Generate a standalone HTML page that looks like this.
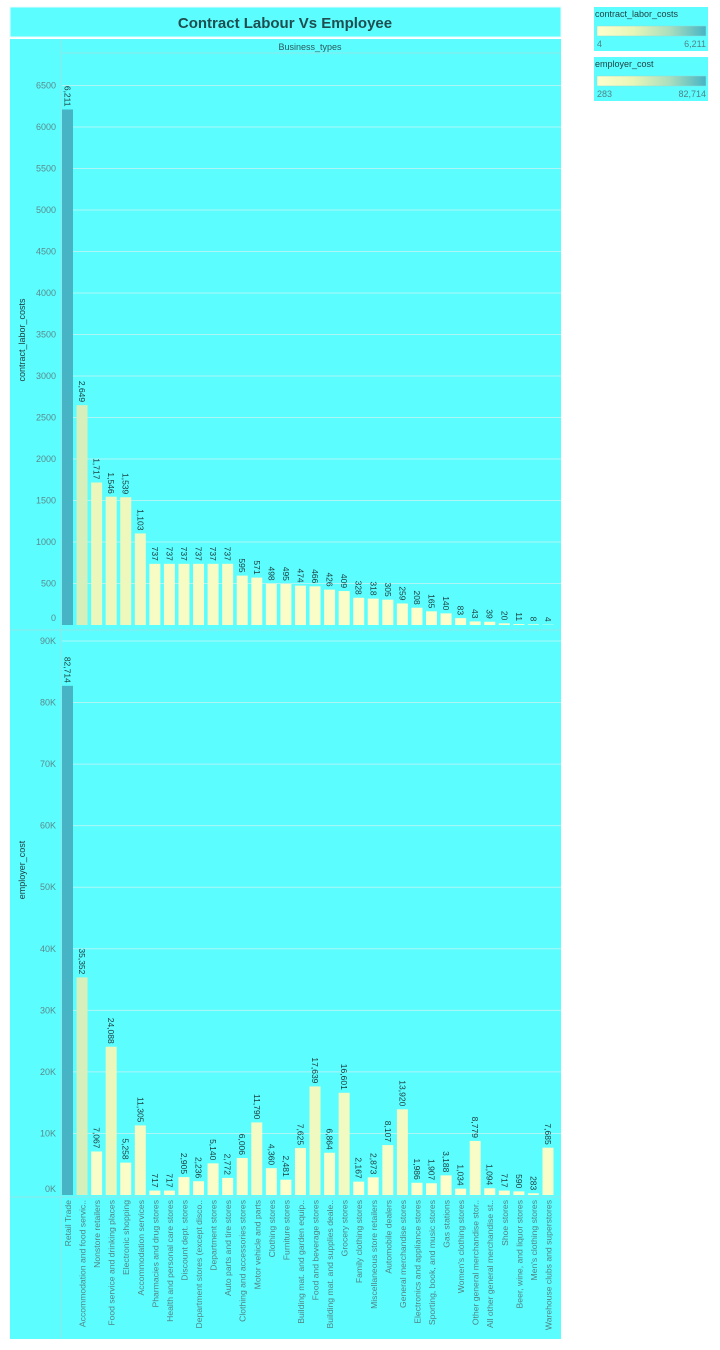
<!DOCTYPE html>
<html><head><meta charset="utf-8"><style>
body{margin:0;background:#fff;width:720px;height:1345px;overflow:hidden;font-family:"Liberation Sans",sans-serif}
</style></head><body>
<svg id="c" width="720" height="1345" xmlns="http://www.w3.org/2000/svg">
<rect x="10" y="7" width="551" height="30" fill="#5cfdff" stroke="#e8fbfb"/>
<text x="285" y="28" text-anchor="middle" font-size="15" font-weight="bold" fill="#1f4e50">Contract Labour Vs Employee</text>
<rect x="10" y="39" width="551" height="1300" fill="#5cfdff"/>
<g id="legend"></g>
<g id="g"></g>
</svg>
<script>
const categories=["Retail Trade","Accommodation and food servic..","Nonstore retailers","Food service and drinking places","Electronic shopping","Accommodation services","Pharmacies and drug stores","Health and personal care stores","Discount dept. stores","Department stores (except disco..","Department stores","Auto parts and tire stores","Clothing and accessories stores","Motor vehicle and parts","Clothing stores","Furniture stores","Building mat. and garden equip..","Food and beverage stores","Building mat. and supplies deale..","Grocery stores","Family clothing stores","Miscellaneous store retailers","Automobile dealers","General merchandise stores","Electronics and appliance stores","Sporting, book, and music stores","Gas stations","Women's clothing stores","Other general merchandise stor..","All other general merchandise st..","Shoe stores","Beer, wine, and liquor stores","Men's clothing stores","Warehouse clubs and superstores"];
const contractCosts=[6211,2649,1717,1546,1539,1103,737,737,737,737,737,737,595,571,498,495,474,466,426,409,328,318,305,259,208,165,140,83,43,39,20,11,8,4];
const employerCost=[82714,35352,7067,24088,5258,11305,717,717,2905,2236,5140,2772,6006,11790,4360,2481,7625,17639,6864,16601,2167,2873,8107,13920,1986,1907,3188,1034,8779,1094,717,590,283,7685];
const topTicks=[0,500,1000,1500,2000,2500,3000,3500,4000,4500,5000,5500,6000,6500];
const botTicks=[0,10000,20000,30000,40000,50000,60000,70000,80000,90000];
const botTickLabels=["0K","10K","20K","30K","40K","50K","60K","70K","80K","90K"];
const NS="http://www.w3.org/2000/svg";
const g=document.getElementById('g');
function el(t,a,p){const e=document.createElementNS(NS,t);for(const k in a)e.setAttribute(k,a[k]);(p||g).appendChild(e);return e;}
const x0=62,step=14.56,bw=11;
const xPos=i=>x0+i*step;
const yTop=v=>625-v*0.0830;
const yBot=v=>1195-v*0.006156;
const stops=[[255,255,204],[232,246,184],[170,222,190],[70,180,196]];
function col(t){t=Math.max(0,Math.min(1,t));const s=t*3,i=Math.min(2,Math.floor(s)),f=s-i;const a=stops[i],b=stops[i+1];return `rgb(${a.map((v,k)=>Math.round(v+(b[k]-v)*f)).join(',')})`;}
// frame lines
let ln=el('line',{x1:61,y1:40,x2:61,y2:1338,stroke:'#8ee8ea'});

ln=el('line',{x1:61,y1:53,x2:561,y2:53,stroke:'#8ee8ea'});

let t=el('text',{x:310,y:50,'text-anchor':'middle','font-size':9,fill:'#2a5a5c'});t.textContent='Business_types';

ln=el('line',{x1:10,y1:630,x2:561,y2:630,stroke:'#8ee8ea'});

ln=el('line',{x1:10,y1:1197,x2:561,y2:1197,stroke:'#8ee8ea'});

topTicks.forEach(v=>{const y=yTop(v);
 if(v>0){const l=el('line',{x1:62,y1:y,x2:561,y2:y,stroke:'#aef6f6','stroke-width':1});}
 const tx=el('text',{x:56,y:v===0?621:y+3,'text-anchor':'end','font-size':9,fill:'#5a8a8c'});tx.textContent=v;
 });
botTicks.forEach((v,i)=>{const y=yBot(v);
 if(v>0){const l=el('line',{x1:62,y1:y,x2:561,y2:y,stroke:'#aef6f6','stroke-width':1});}
 const tx=el('text',{x:56,y:v===0?1192:y+3,'text-anchor':'end','font-size':9,fill:'#5a8a8c'});tx.textContent=botTickLabels[i];
 });
t=el('text',{transform:'translate(25,340) rotate(-90)','text-anchor':'middle','font-size':9,fill:'#1f3f40'});t.textContent='contract_labor_costs';

t=el('text',{transform:'translate(25,870) rotate(-90)','text-anchor':'middle','font-size':9,fill:'#1f3f40'});t.textContent='employer_cost';

const cMax=Math.max(...contractCosts),cMin=Math.min(...contractCosts),eMax=Math.max(...employerCost),eMin=Math.min(...employerCost);
categories.forEach((c,i)=>{const x=xPos(i);
 let v=contractCosts[i],y=yTop(v);
 let r=el('rect',{x:x,y:y,width:bw,height:625-y,fill:col((v-cMin)/(cMax-cMin))});
 
 let tx=el('text',{transform:`translate(${x+2.5},${y-3}) rotate(90)`,'text-anchor':'end','font-size':8.5,fill:'#1a3a3a'});tx.textContent=v.toLocaleString('en-US');
 
 v=employerCost[i];y=yBot(v);
 r=el('rect',{x:x,y:y,width:bw,height:1195-y,fill:col((v-eMin)/(eMax-eMin))});
 
 tx=el('text',{transform:`translate(${x+2.5},${y-3}) rotate(90)`,'text-anchor':'end','font-size':8.5,fill:'#1a3a3a'});tx.textContent=v.toLocaleString('en-US');
 
 tx=el('text',{transform:`translate(${x+9},1200) rotate(-90)`,'text-anchor':'end','font-size':8.6,fill:'#4f8485'});tx.textContent=c;
 
});
// legends
const L=document.getElementById('legend');
[["contract_labor_costs","4","6,211",7],["employer_cost","283","82,714",57]].forEach(([n,a,b,y],k)=>{
 const r=el('rect',{x:594,y:y,width:114,height:44,fill:'#5cfdff'},L);
 let tx=el('text',{x:595,y:y+10,'font-size':9,fill:'#1f3f40'},L);tx.textContent=n;
 const gid='lg'+k;const d=el('linearGradient',{id:gid},L);
 stops.forEach((s,i)=>el('stop',{offset:i/3,'stop-color':`rgb(${s.join(',')})`},d));
 const gb=el('rect',{x:597,y:y+19,width:109,height:10,fill:`url(#${gid})`,stroke:'#8fdcdc','stroke-width':0.5},L);
 tx=el('text',{x:597,y:y+40,'font-size':9,fill:'#4f8485'},L);tx.textContent=a;
 tx=el('text',{x:706,y:y+40,'text-anchor':'end','font-size':9,fill:'#4f8485'},L);tx.textContent=b;
});
</script>
</body></html>
